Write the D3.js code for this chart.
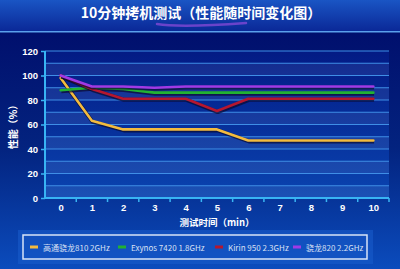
<!DOCTYPE html>
<html><head><meta charset="utf-8">
<script src="https://cdn.jsdelivr.net/npm/d3@7"></script>
<style>html,body{margin:0;padding:0;background:#000a6a;} svg{display:block}</style>
</head><body><svg id="c" width="400" height="269"></svg>
<script>
const titleText = "10分钟拷机测试（性能随时间变化图）";
const minutes = [0,1,2,3,4,5,6,7,8,9,10];
const seriesNames = ["高通骁龙810 2GHz","Exynos 7420 1.8GHz","Kirin 950 2.3GHz","骁龙820 2.2GHz"];
const snapdragon810 = [98,63,56,56,56,56,47,47,47,47,47];
const exynos7420 = [88,90,89,86,86,86,86,86,86,86,86];
const kirin950 = [100,89,81,81,81,71,81,81,81,81,81];
const snapdragon820 = [100,91,91,90,91,91,91,91,91,91,91];
const yTicks = [0,20,40,60,80,100,120];
const gridValues = [0,10,20,30,40,50,60,70,80,90,100,110,120];
const colors = ["#f3bb3e","#22b232","#b5172f","#a03ae6"];
const yTitle = "性能（%）";
const xTitle = "测试时间（min）";

const svg = d3.select("#c");
const W = 400, H = 269;
const defs = svg.append("defs");
const bg = defs.append("linearGradient").attr("id","bg").attr("x1",0).attr("y1",0).attr("x2",0).attr("y2",1);
bg.append("stop").attr("offset","0%").attr("stop-color","#000a68");
bg.append("stop").attr("offset","55%").attr("stop-color","#03237f");
bg.append("stop").attr("offset","100%").attr("stop-color","#0b4cbd");
const tb = defs.append("linearGradient").attr("id","tb").attr("x1",0).attr("y1",0).attr("x2",0).attr("y2",1);
tb.append("stop").attr("offset","0%").attr("stop-color","#1a55c4");
tb.append("stop").attr("offset","100%").attr("stop-color","#0a2796");
const pg = defs.append("linearGradient").attr("id","pg").attr("x1",0).attr("y1",0).attr("x2",0).attr("y2",1);
pg.append("stop").attr("offset","0%").attr("stop-color","#031a84");
pg.append("stop").attr("offset","100%").attr("stop-color","#0a44b0");

svg.append("rect").attr("width",W).attr("height",H).attr("fill","url(#bg)");
svg.append("rect").attr("width",W).attr("height",32).attr("fill","url(#tb)");
svg.append("rect").attr("y",31).attr("width",W).attr("height",1.5).attr("fill","#5aa0ec");

svg.append("text").attr("x",201).attr("y",18).attr("text-anchor","middle")
  .attr("fill","#ffffff").attr("font-family","'Noto Sans CJK SC', sans-serif")
  .attr("font-weight","bold").attr("font-size",14).text(titleText);
svg.append("path").attr("d","M157,24 C175,27 205,26 246,23")
  .attr("fill","none").attr("stroke","#8a4ad8").attr("stroke-width",2.5).attr("stroke-opacity",0.75).attr("stroke-linecap","round");

const x = d3.scaleLinear().domain([-0.5,10.5]).range([45,389]);
const y = d3.scaleLinear().domain([0,120]).range([198,51]);

// plot background bands
svg.append("rect").attr("x",x(-0.5)).attr("y",y(120)).attr("width",x(10.5)-x(-0.5)).attr("height",y(0)-y(120)).attr("fill","url(#pg)");
svg.append("g").selectAll("rect").data(gridValues.slice(0,-1).filter(v=>v%20===0)).join("rect")
  .attr("x",x(-0.5)).attr("width",x(10.5)-x(-0.5))
  .attr("y",d=>y(d+10)).attr("height",d=>y(d)-y(d+10))
  .attr("fill","#ffffff").attr("fill-opacity",0.07);
svg.append("g").selectAll("line").data(gridValues).join("line")
  .attr("x1",x(-0.5)).attr("x2",x(10.5)).attr("y1",d=>y(d)).attr("y2",d=>y(d))
  .attr("stroke","#3f8ee6").attr("stroke-width",1.2);

// axes
const yAxis = d3.axisLeft(y).tickValues(yTicks).tickSize(4).tickPadding(3);
const gy = svg.append("g").attr("transform",`translate(${x(-0.5)},0)`).call(yAxis);
const xAxis = d3.axisBottom(x).tickValues(minutes).tickSize(0).tickPadding(6);
const gx = svg.append("g").attr("transform",`translate(0,${y(0)})`).call(xAxis);
svg.append("g").selectAll("line").data(minutes.map(m=>m+0.5)).join("line")
  .attr("x1",d=>x(d)).attr("x2",d=>x(d)).attr("y1",y(0)).attr("y2",y(0)+4)
  .attr("stroke","#38b4f4").attr("stroke-width",1.5);
[gx,gy].forEach(g=>{
  g.select(".domain").attr("stroke","#38b4f4").attr("stroke-width",2);
  g.selectAll(".tick line").attr("stroke","#38b4f4").attr("stroke-width",1.5);
  g.selectAll("text").attr("fill","#ffffff").attr("font-family","Arial, 'Liberation Sans', sans-serif")
   .attr("font-weight","bold").attr("font-size",9.5);
});
gy.select(".domain").attr("d",`M0,${y(0)}V${y(120)}`);
gx.select(".domain").attr("d",`M${x(-0.5)},0H${x(10.5)}`);

svg.append("text").attr("transform",`translate(17,${(y(0)+y(120))/2}) rotate(-90)`)
  .attr("text-anchor","middle").attr("fill","#ffffff")
  .attr("font-family","'Noto Sans CJK SC', sans-serif").attr("font-weight","bold").attr("font-size",10).text(yTitle);
svg.append("text").attr("x",(x(-0.5)+x(10.5))/2).attr("y",226).attr("text-anchor","middle").attr("fill","#ffffff")
  .attr("font-family","'Noto Sans CJK SC', sans-serif").attr("font-weight","bold").attr("font-size",9.5).text(xTitle);

// lines
const allSeries = [snapdragon810, exynos7420, kirin950, snapdragon820];
const line = d3.line().x((d,i)=>x(minutes[i])).y(d=>y(d));
const lg = svg.append("g");
allSeries.forEach((s,i)=>{
  lg.append("path").attr("d",line(s)).attr("fill","none").attr("stroke","#0a0a30").attr("stroke-opacity",0.7)
    .attr("stroke-width",4).attr("transform","translate(0.7,1)").attr("stroke-linejoin","round");
  lg.append("path").attr("d",line(s)).attr("fill","none").attr("stroke",colors[i])
    .attr("stroke-width",2.6).attr("stroke-linejoin","round").attr("stroke-linecap","round");
});

// legend
svg.append("rect").attr("x",18).attr("y",230).attr("width",355).attr("height",34).attr("fill","#1a5ccc").attr("fill-opacity",0.55);
svg.append("rect").attr("x",23).attr("y",235).attr("width",344).attr("height",24).attr("fill","none")
  .attr("stroke","#d8e4f8").attr("stroke-width",1.5);
const legX = [30, 118, 215, 293];
const leg = svg.append("g").selectAll("g").data(seriesNames).join("g")
  .attr("transform",(d,i)=>`translate(${legX[i]},247)`);
leg.append("rect").attr("x",0).attr("y",-1.5).attr("width",8).attr("height",3).attr("fill",(d,i)=>colors[i]);
leg.append("text").attr("x",13).attr("y",3.5).attr("fill","#d8e0f4")
  .attr("font-family","'Noto Sans CJK SC', 'Liberation Sans', sans-serif").attr("font-size",8).text(d=>d);
</script></body></html>
